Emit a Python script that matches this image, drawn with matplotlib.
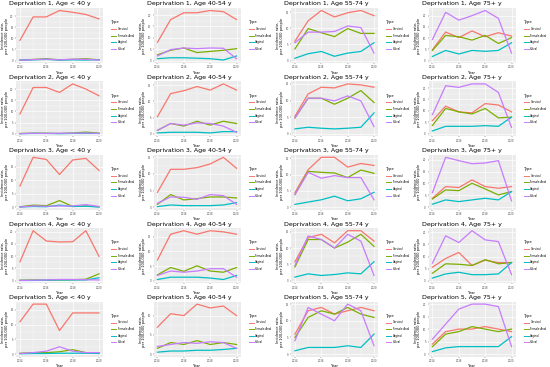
import numpy as np
import matplotlib
matplotlib.use("Agg")
import matplotlib.pyplot as plt
from matplotlib.ticker import MultipleLocator

years = [2014, 2015, 2016, 2017, 2018, 2019, 2020]
deprivations = [1, 2, 3, 4, 5]
age_groups = ["< 40 y", "40-54 y", "55-74 y", "75+ y"]
types = ["Cervical", "Female Anal", "Vaginal", "Vulval"]
type_colors = ["#F8766D", "#7CAE00", "#00BFC4", "#C77CFF"]

# rates per 100,000, indexed [deprivation][age group] -> one value per year
cervical = [
    [[9.1, 19.7, 19.7, 22.6, 21.8, 20.8, 18.8],
     [8.0, 18.0, 21.0, 21.0, 22.0, 21.5, 18.0],
     [6.0, 12.3, 15.5, 13.5, 14.8, 15.5, 13.9],
     [4.8, 12.7, 10.2, 13.2, 10.6, 12.4, 10.9]],
    [[8.9, 20.7, 20.7, 18.5, 22.3, 20.0, 17.0],
     [5.3, 12.4, 13.3, 14.6, 13.5, 15.4, 13.5],
     [5.3, 12.0, 14.0, 13.8, 15.0, 14.7, 14.0],
     [5.8, 12.1, 9.6, 9.2, 13.2, 12.6, 9.6]],
    [[7.9, 18.6, 17.8, 12.2, 17.6, 18.2, 13.7],
     [4.5, 11.4, 11.4, 11.9, 13.0, 15.0, 11.7],
     [4.5, 11.5, 15.3, 15.3, 12.3, 13.4, 12.8],
     [3.8, 8.7, 8.3, 11.5, 8.7, 8.0, 8.7]],
    [[7.7, 20.4, 16.2, 15.8, 15.9, 20.4, 9.9],
     [7.1, 15.9, 17.1, 15.9, 17.1, 16.7, 15.9],
     [5.8, 13.2, 14.2, 11.6, 15.3, 15.3, 12.1],
     [5.6, 9.2, 11.7, 6.3, 8.5, 7.5, 7.5]],
    [[11.0, 17.0, 17.0, 8.0, 14.0, 14.0, 14.0],
     [7.0, 10.5, 10.0, 13.0, 12.0, 12.5, 10.0],
     [6.0, 13.0, 14.0, 12.0, 13.0, 14.0, 13.0],
     [4.0, 9.0, 10.0, 10.0, 11.0, 10.0, 9.0]],
]
female_anal = [
    [[0.1, 0.5, 0.8, 0.3, 0.5, 0.8, 0.3],
     [2.5, 4.5, 5.5, 3.5, 4.0, 4.5, 5.2],
     [3.6, 9.9, 8.6, 7.4, 9.9, 8.4, 8.4],
     [4.5, 11.2, 10.6, 9.1, 11.2, 7.6, 10.2]],
    [[0.2, 0.3, 0.3, 0.2, 0.4, 0.8, 0.3],
     [1.1, 3.2, 2.4, 3.9, 2.7, 3.9, 3.2],
     [4.8, 10.7, 10.7, 8.9, 10.7, 13.0, 9.4],
     [3.7, 11.1, 9.6, 8.7, 11.1, 7.0, 7.3]],
    [[0.2, 0.8, 0.6, 2.5, 0.3, 0.5, 0.2],
     [0.9, 3.8, 2.2, 2.6, 3.1, 3.1, 2.8],
     [3.9, 11.0, 10.7, 10.5, 9.1, 11.4, 10.4],
     [3.5, 7.3, 7.0, 10.1, 7.7, 5.2, 6.6]],
    [[0.2, 0.3, 0.2, 0.3, 0.4, 0.6, 2.8],
     [2.0, 4.5, 3.2, 5.1, 3.3, 2.9, 4.5],
     [4.2, 12.6, 12.6, 10.0, 11.8, 14.2, 10.5],
     [3.1, 7.0, 6.8, 6.3, 8.7, 7.0, 7.5]],
    [[0.3, 0.5, 0.5, 0.8, 1.5, 0.5, 0.5],
     [1.5, 3.0, 2.5, 3.5, 2.5, 3.0, 2.5],
     [5.0, 11.0, 13.0, 12.0, 14.0, 12.0, 11.0],
     [3.0, 8.0, 9.0, 11.0, 10.0, 9.0, 10.0]],
]
vaginal = [
    [[0.2, 0.3, 0.5, 0.2, 0.3, 0.2, 0.4],
     [0.8, 1.2, 1.2, 1.0, 0.8, 0.2, 2.0],
     [0.7, 2.1, 2.8, 1.3, 2.3, 2.8, 5.5],
     [1.8, 4.5, 2.9, 4.5, 4.1, 4.5, 7.9]],
    [[0.1, 0.2, 0.2, 0.1, 0.2, 0.2, 0.2],
     [0.3, 0.5, 0.5, 0.5, 0.3, 0.7, 0.7],
     [1.5, 2.0, 1.7, 1.5, 1.7, 2.0, 6.3],
     [1.3, 3.3, 3.3, 3.3, 3.6, 3.3, 7.3]],
    [[0.1, 0.3, 0.2, 0.8, 0.3, 0.4, 0.1],
     [0.2, 0.7, 0.5, 0.5, 0.5, 0.7, 1.4],
     [0.9, 1.6, 2.3, 3.4, 2.0, 2.6, 4.6],
     [1.3, 3.1, 2.4, 3.1, 3.8, 3.1, 6.6]],
    [[0.1, 0.1, 0.2, 0.3, 0.3, 0.3, 1.2],
     [0.4, 1.2, 1.2, 1.2, 0.9, 0.4, 1.8],
     [1.1, 2.1, 1.6, 1.9, 2.4, 2.1, 5.8],
     [1.1, 2.8, 3.5, 2.5, 2.5, 2.8, 7.5]],
    [[0.1, 0.2, 0.2, 0.3, 0.3, 0.3, 0.2],
     [0.5, 0.8, 0.8, 1.0, 1.0, 1.2, 1.5],
     [1.0, 2.0, 2.0, 2.0, 2.5, 2.0, 6.0],
     [1.0, 2.5, 3.0, 3.0, 3.0, 3.0, 7.0]],
]
vulval = [
    [[0.1, 0.4, 0.6, 0.3, 0.6, 0.5, 0.2],
     [2.0, 4.8, 5.5, 5.2, 5.5, 5.4, 0.8],
     [5.5, 8.8, 8.8, 9.0, 10.7, 10.2, 2.3],
     [9.4, 21.5, 18.0, 20.0, 22.3, 18.8, 3.3]],
    [[0.1, 0.3, 0.2, 0.3, 0.3, 0.4, 0.2],
     [1.1, 3.2, 2.7, 3.4, 3.2, 2.4, 0.5],
     [4.8, 10.7, 10.7, 9.9, 11.4, 9.9, 2.2],
     [8.4, 21.0, 20.3, 21.8, 21.8, 18.1, 2.8]],
    [[0.1, 0.5, 0.4, 0.5, 0.5, 1.0, 0.3],
     [1.2, 3.1, 3.0, 2.4, 3.8, 3.5, 0.9],
     [3.9, 10.7, 8.9, 9.7, 9.1, 9.1, 2.3],
     [6.2, 21.0, 19.6, 18.3, 18.6, 19.6, 2.7]],
    [[0.1, 0.2, 0.3, 0.5, 0.5, 0.4, 0.3],
     [1.8, 3.3, 2.9, 3.3, 4.1, 4.1, 1.2],
     [4.7, 13.7, 12.6, 10.0, 14.2, 12.1, 1.6],
     [7.3, 18.6, 15.8, 20.7, 16.9, 16.2, 2.5]],
    [[0.2, 0.5, 1.0, 2.5, 1.0, 0.5, 0.5],
     [2.0, 2.5, 3.0, 2.8, 3.2, 3.0, 1.5],
     [4.0, 14.0, 12.0, 10.0, 15.0, 13.0, 2.5],
     [6.0, 12.0, 18.0, 20.0, 20.0, 19.0, 3.0]],
]
series_by_type = [cervical, female_anal, vaginal, vulval]

W, H = 550, 367
fig = plt.figure(figsize=(5.5, 3.67), dpi=100)
fig.patch.set_facecolor("white")

col_w = W / 4
row_h = H / 5

for r, dep in enumerate(deprivations):
    for c, age in enumerate(age_groups):
        x0 = c * col_w
        y0 = r * row_h
        ax = fig.add_axes([(x0 + 16) / W, 1 - (y0 + 63) / H, 87 / W, 55 / H])
        ax.set_facecolor("#EBEBEB")

        for t, name in enumerate(types):
            ax.plot(years, series_by_type[t][r][c], color=type_colors[t],
                    lw=0.9, label=name, zorder=3)

        ax.set_xlim(2013.7, 2020.3)
        ymax = max(max(s[r][c]) for s in series_by_type)
        ax.set_ylim(-0.05 * ymax, ymax * 1.05)
        ax.set_xticks([2014, 2016, 2018, 2020])
        ax.xaxis.set_minor_locator(MultipleLocator(1))
        step = 5 if ymax > 6 else (1 if ymax < 3 else 2)
        ax.yaxis.set_major_locator(MultipleLocator(step))
        ax.yaxis.set_minor_locator(MultipleLocator(step / 2))
        ax.grid(which="major", color="white", lw=0.5)
        ax.grid(which="minor", color="white", lw=0.25)
        ax.set_axisbelow(True)
        for s in ax.spines.values():
            s.set_visible(False)
        ax.tick_params(which="major", labelsize=1.9, length=1.0, width=0.3,
                       color="#333333", labelcolor="#4D4D4D", pad=0.8)
        ax.tick_params(which="minor", length=0)

        ax.set_title(f"Deprivation {dep}, Age {age}", fontsize=4.5,
                     loc="left", pad=1.8, x=-0.08)
        ax.set_xlabel("Year", fontsize=2.7, labelpad=0.8)
        ax.set_ylabel("Incidence rate,\nper 100,000 people", fontsize=2.6,
                      labelpad=1.0, linespacing=0.9)

        leg = ax.legend(loc="center left", bbox_to_anchor=(1.08, 0.5),
                        frameon=False, fontsize=1.9, title="Type",
                        title_fontsize=2.7, handlelength=2.0,
                        handletextpad=0.6, labelspacing=1.0,
                        alignment="left", borderaxespad=0)
        for line in leg.get_lines():
            line.set_linewidth(0.7)

fig.savefig("out.png", dpi=100, facecolor="white")
